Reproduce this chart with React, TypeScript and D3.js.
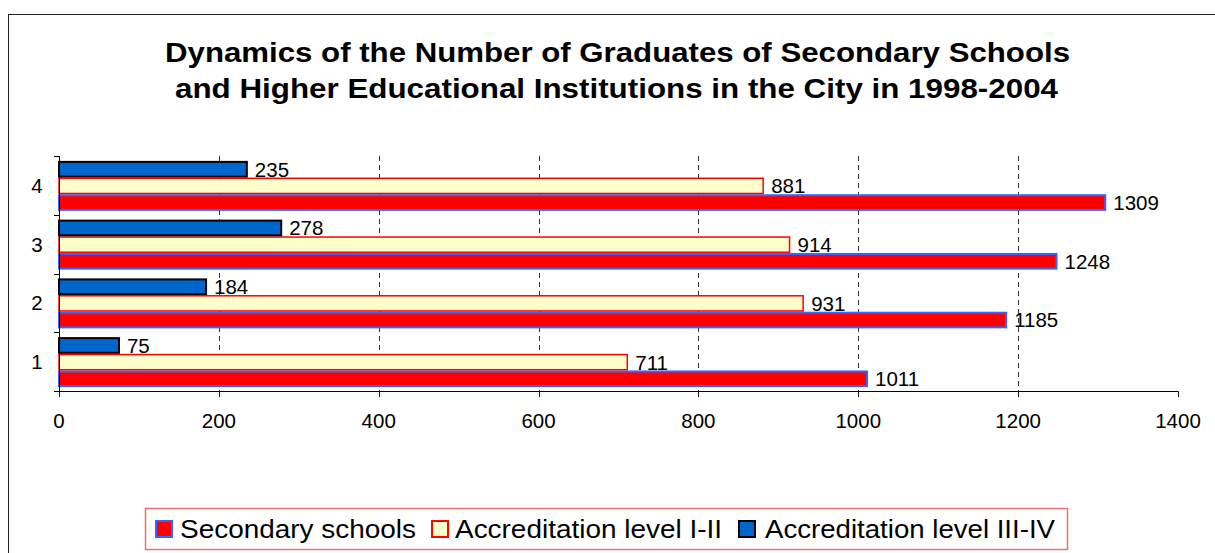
import React from "react";
import * as d3 from "d3";

const categories = ["1", "2", "3", "4"];
const seriesNames = ["Secondary schools", "Accreditation level I-II", "Accreditation level III-IV"];
const secondarySchools = [1011, 1185, 1248, 1309];
const accreditationI_II = [711, 931, 914, 881];
const accreditationIII_IV = [75, 184, 278, 235];
const xTicks = [0, 200, 400, 600, 800, 1000, 1200, 1400];
const titleLines = [
  "Dynamics of the Number of Graduates of Secondary Schools",
  "and Higher Educational Institutions in the City in 1998-2004",
];

const seriesStyle = [
  { fill: "#FF0000", stroke: "#3366FF", sw: 2 },
  { fill: "#FFFFCC", stroke: "#FF0000", sw: 1.5 },
  { fill: "#0066CC", stroke: "#000000", sw: 2 },
];

const FONT = "'Liberation Sans', Arial, sans-serif";

export default function App() {
  const W = 1215, H = 553;
  const x = d3.scaleLinear().domain([0, 1400]).range([59, 1178]);
  const y0 = d3.scaleBand<string>().domain([...categories].reverse()).range([156, 391]);
  const bw = y0.bandwidth();
  const groupH = 50;
  const off = (bw - groupH) / 2 + 0.5;
  // top to bottom: III-IV, I-II, Secondary
  const y1 = d3.scaleBand<number>().domain([2, 1, 0]).range([off, off + groupH]);
  const values = [secondarySchools, accreditationI_II, accreditationIII_IV];

  const legendItems = [
    { sx: 155, tx: 180, tw: 236 },
    { sx: 431, tx: 455, tw: 267 },
    { sx: 738, tx: 765, tw: 290 },
  ];

  return (
    <svg width={W} height={H} style={{ position: "absolute", left: 0, top: 0, background: "#fff" }} fontFamily={FONT}>
      <rect x={0} y={0} width={W} height={H} fill="#fff" />
      {/* outer chart border */}
      <line x1={8} y1={14.5} x2={W} y2={14.5} stroke="#222" strokeWidth={1} />
      <line x1={8.5} y1={14} x2={8.5} y2={H} stroke="#222" strokeWidth={1} />

      {/* title */}
      <text x={617.5} y={62} textAnchor="middle" fontWeight="bold" fontSize={27.5} textLength={905} lengthAdjust="spacingAndGlyphs">{titleLines[0]}</text>
      <text x={616.5} y={98} textAnchor="middle" fontWeight="bold" fontSize={27.5} textLength={883} lengthAdjust="spacingAndGlyphs">{titleLines[1]}</text>

      {/* gridlines */}
      {xTicks.filter((t) => t > 0 && t < 1400).map((t) => (
        <line key={"g" + t} x1={Math.round(x(t)) + 0.5} x2={Math.round(x(t)) + 0.5} y1={156} y2={391} stroke="#333" strokeWidth={1} strokeDasharray="5,4" />
      ))}

      {/* bars */}
      {categories.map((c, ci) => (
        <g key={c} transform={`translate(0,${y0(c)})`}>
          {values.map((vals, si) => {
            const st = seriesStyle[si];
            const yy = y1(si)!;
            const h = y1.bandwidth();
            return (
              <g key={si}>
                <rect x={x(0)} y={yy + st.sw / 2} width={x(vals[ci]) - x(0)} height={h - st.sw} fill={st.fill} stroke={st.stroke} strokeWidth={st.sw} />
                <text x={x(vals[ci]) + 8} y={yy + h / 2} dy="0.36em" fontSize={20.5} fill="#000">{vals[ci]}</text>
              </g>
            );
          })}
        </g>
      ))}

      {/* y axis */}
      <line x1={59.5} x2={59.5} y1={156} y2={392} stroke="#000" strokeWidth={1} />
      {[...y0.domain().map((d) => y0(d)!), 391].map((yy, i) => (
        <line key={"yt" + i} x1={54} x2={59.5} y1={Math.round(yy) + 0.5} y2={Math.round(yy) + 0.5} stroke="#000" />
      ))}
      {categories.map((c) => (
        <text key={"yl" + c} x={37} y={y0(c)! + bw / 2} dy="0.36em" textAnchor="middle" fontSize={20.5}>{c}</text>
      ))}

      {/* x axis */}
      <line x1={59} x2={1178.5} y1={391.5} y2={391.5} stroke="#000" strokeWidth={1} />
      {xTicks.map((t) => (
        <g key={"xt" + t}>
          <line x1={Math.round(x(t)) + 0.5} x2={Math.round(x(t)) + 0.5} y1={391.5} y2={397} stroke="#000" />
          <text x={x(t)} y={428} textAnchor="middle" fontSize={20.5}>{t}</text>
        </g>
      ))}

      {/* legend */}
      <rect x={145.5} y={508.5} width={922} height={41} fill="#fff" stroke="#F07070" strokeWidth={1.5} />
      {legendItems.map((li, i) => {
        const st = seriesStyle[i];
        return (
          <g key={"lg" + i}>
            <rect x={li.sx + 1} y={521} width={16} height={16} fill={st.fill} stroke={st.stroke} strokeWidth={2} />
            <text x={li.tx} y={538} fontSize={26} textLength={li.tw} lengthAdjust="spacingAndGlyphs">{seriesNames[i]}</text>
          </g>
        );
      })}
    </svg>
  );
}
